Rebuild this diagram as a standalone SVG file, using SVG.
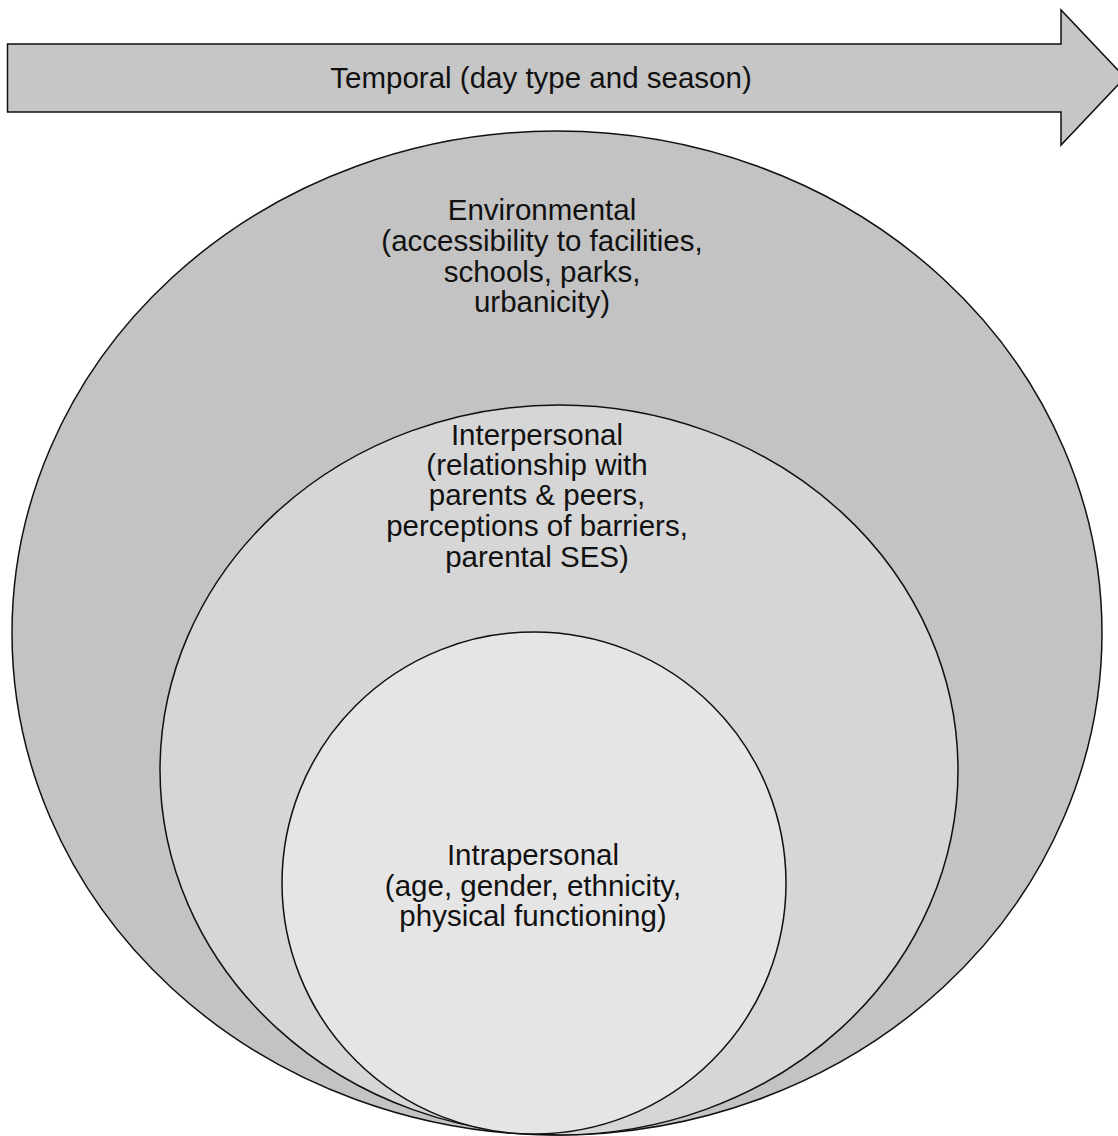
<svg xmlns="http://www.w3.org/2000/svg" width="1118" height="1136" viewBox="0 0 1118 1136">
<style>
.lbl{font-family:"Liberation Sans",Arial,sans-serif;font-size:29.5px;fill:#111;text-anchor:middle}
.shape{stroke:#111;stroke-width:1.5}
</style>
<rect width="1118" height="1136" fill="#fff"/>
<g id="temporal">
<path class="shape" d="M7.5,44 H1061 V10 L1125,77.5 L1061,145 V112 H7.5 Z" fill="#c6c6c6"/>
<text class="lbl" x="541" y="88">Temporal (day type and season)</text>
</g>
<g id="environmental">
<ellipse class="shape" cx="557" cy="633" rx="545" ry="502" fill="#c3c3c3"/>
<text class="lbl"><tspan x="542" y="220">Environmental</tspan><tspan x="542" y="251">(accessibility to facilities,</tspan><tspan x="542" y="282">schools, parks,</tspan><tspan x="542" y="312">urbanicity)</tspan></text>
</g>
<g id="interpersonal">
<ellipse class="shape" cx="559" cy="770" rx="399" ry="365" fill="#d6d6d6"/>
<text class="lbl"><tspan x="537" y="445">Interpersonal</tspan><tspan x="537" y="475">(relationship with</tspan><tspan x="537" y="505">parents &amp; peers,</tspan><tspan x="537" y="536">perceptions of barriers,</tspan><tspan x="537" y="567">parental SES)</tspan></text>
</g>
<g id="intrapersonal">
<ellipse class="shape" cx="534" cy="883" rx="252" ry="251" fill="#e6e5e5"/>
<text class="lbl"><tspan x="533" y="865">Intrapersonal</tspan><tspan x="533" y="896">(age, gender, ethnicity,</tspan><tspan x="533" y="926">physical functioning)</tspan></text>
</g>
<g id="connectors"/>
</svg>
